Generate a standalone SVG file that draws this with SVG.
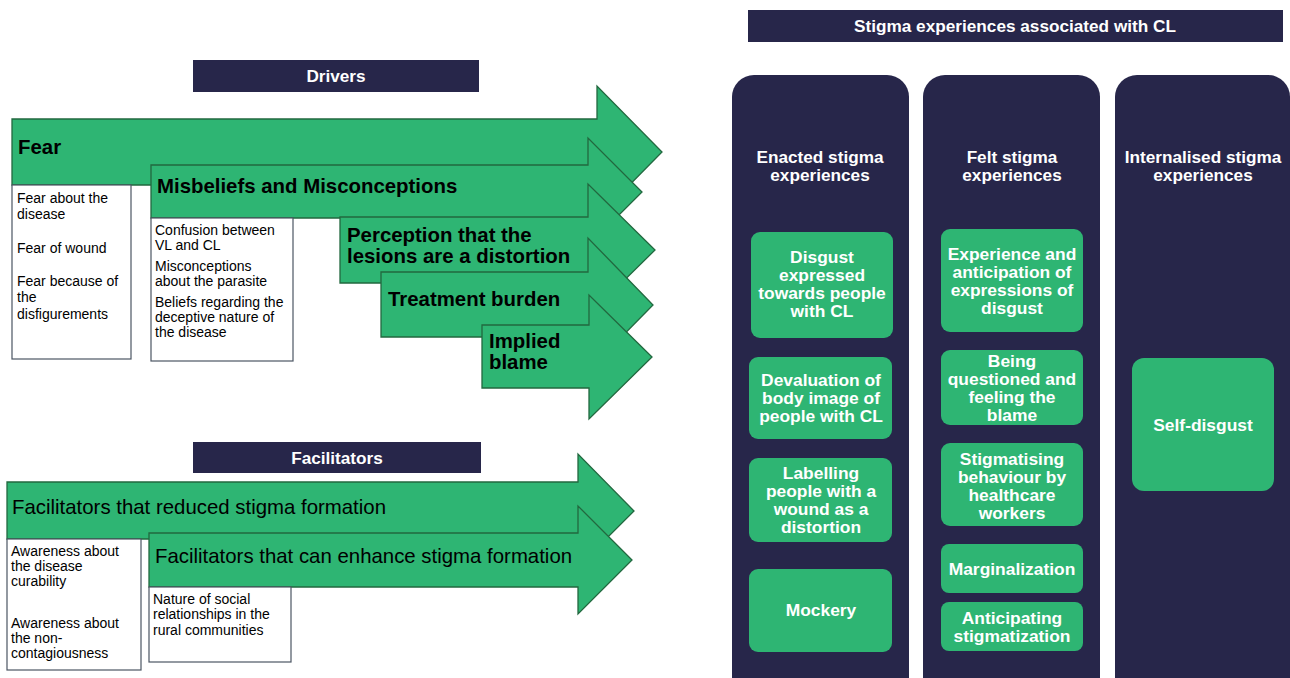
<svg xmlns="http://www.w3.org/2000/svg" width="1290" height="678" viewBox="0 0 1290 678">
<style>
.navy{fill:#27264a}
.arrow{fill:#2eb573;stroke:#22683f;stroke-width:1.3;stroke-linejoin:miter}
.wbox{fill:#ffffff;stroke:#4b5563;stroke-width:1.2}
.gbox{fill:#2eb573}
.hdr{font-family:"Liberation Sans",Arial,sans-serif;font-weight:bold;font-size:17.2px;fill:#ffffff;text-anchor:middle}
.al{font-family:"Liberation Sans",Arial,sans-serif;font-weight:bold;font-size:20.4px;fill:#000000}
.fl{font-family:"Liberation Sans",Arial,sans-serif;font-size:20.4px;fill:#000000}
.bt{font-family:"Liberation Sans",Arial,sans-serif;font-size:14px;fill:#000000}
.gt{font-family:"Liberation Sans",Arial,sans-serif;font-weight:bold;font-size:17.4px;fill:#ffffff;text-anchor:middle}
</style>
<rect width="1290" height="678" fill="#ffffff"/>

<g id="drivers-header">
<rect class="navy" x="193" y="60" width="286" height="32"/>
<text class="hdr" x="336" y="82">Drivers</text>
</g>

<g id="fear">
<path class="arrow" d="M12,119 L597,119 L597,86 L662,152 L597,218 L597,185 L12,185 Z"/>
<text class="al" x="18" y="154" font-size="22">Fear</text>
</g>
<g id="fear-box">
<rect class="wbox" x="12" y="185" width="119" height="174"/>
<text class="bt" x="17" y="203">Fear about the</text>
<text class="bt" x="17" y="219">disease</text>
<text class="bt" x="17" y="253">Fear of wound</text>
<text class="bt" x="17" y="286">Fear because of</text>
<text class="bt" x="17" y="302">the</text>
<text class="bt" x="17" y="319">disfigurements</text>
</g>

<g id="misbeliefs">
<path class="arrow" d="M151,165 L588,165 L588,138 L642,192 L588,246 L588,218 L151,218 Z"/>
<text class="al" x="157" y="193">Misbeliefs and Misconceptions</text>
</g>
<g id="misbeliefs-box">
<rect class="wbox" x="151" y="218" width="142" height="143"/>
<text class="bt" x="155" y="235">Confusion  between</text>
<text class="bt" x="155" y="250">VL and CL</text>
<text class="bt" x="155" y="271">Misconceptions</text>
<text class="bt" x="155" y="286">about the parasite</text>
<text class="bt" x="155" y="307">Beliefs regarding the</text>
<text class="bt" x="155" y="322">deceptive nature of</text>
<text class="bt" x="155" y="337">the disease</text>
</g>

<g id="perception">
<path class="arrow" d="M340,217 L588,217 L588,184 L655,250 L588,316 L588,283 L340,283 Z"/>
<text class="al" x="347" y="242">Perception that the</text>
<text class="al" x="347" y="263">lesions are a distortion</text>
</g>

<g id="treatment">
<path class="arrow" d="M381,272 L588,272 L588,238 L653,305 L588,371 L588,337 L381,337 Z"/>
<text class="al" x="388" y="306">Treatment burden</text>
</g>

<g id="implied-blame">
<path class="arrow" d="M482,325 L589,325 L589,295 L652,357 L589,419 L589,388 L482,388 Z"/>
<text class="al" x="489" y="348">Implied</text>
<text class="al" x="489" y="369">blame</text>
</g>

<g id="facilitators-header">
<rect class="navy" x="193" y="442" width="288" height="31"/>
<text class="hdr" x="337" y="464">Facilitators</text>
</g>

<g id="fac-reduce">
<path class="arrow" d="M7,482 L578,482 L578,454 L634,511 L578,567 L578,539 L7,539 Z"/>
<text class="fl" x="12" y="514">Facilitators that reduced stigma formation</text>
</g>
<g id="fac-reduce-box">
<rect class="wbox" x="7" y="539" width="134" height="131"/>
<text class="bt" x="11" y="556">Awareness  about</text>
<text class="bt" x="11" y="571">the disease</text>
<text class="bt" x="11" y="586">curability</text>
<text class="bt" x="11" y="628">Awareness  about</text>
<text class="bt" x="11" y="643">the non-</text>
<text class="bt" x="11" y="658">contagiousness</text>
</g>

<g id="fac-enhance">
<path class="arrow" d="M149,533 L578,533 L578,506 L632,560 L578,614 L578,587 L149,587 Z"/>
<text class="fl" x="155" y="563">Facilitators that can enhance stigma formation</text>
</g>
<g id="fac-enhance-box">
<rect class="wbox" x="149" y="587" width="142" height="75"/>
<text class="bt" x="153" y="604">Nature of social</text>
<text class="bt" x="153" y="619">relationships  in the</text>
<text class="bt" x="153" y="635">rural communities</text>
</g>

<g id="stigma-header">
<rect class="navy" x="748" y="10" width="535" height="32"/>
<text class="hdr" x="1015" y="32">Stigma experiences associated with CL</text>
</g>

<g id="enacted">
<rect class="navy" x="732" y="75" width="177" height="640" rx="22"/>
<text class="hdr" x="820" y="163">Enacted stigma</text>
<text class="hdr" x="820" y="181">experiences</text>
</g>
<g id="felt">
<rect class="navy" x="923" y="75" width="177" height="640" rx="22"/>
<text class="hdr" x="1012" y="163">Felt stigma</text>
<text class="hdr" x="1012" y="181">experiences</text>
</g>
<g id="internalised">
<rect class="navy" x="1115" y="75" width="175" height="640" rx="22"/>
<text class="hdr" x="1203" y="163">Internalised stigma</text>
<text class="hdr" x="1203" y="181">experiences</text>
</g>

<g id="disgust-expressed">
<rect class="gbox" x="751" y="232" width="142" height="106" rx="9"/>
<text class="gt" x="822" y="263">Disgust</text>
<text class="gt" x="822" y="281">expressed</text>
<text class="gt" x="822" y="299">towards people</text>
<text class="gt" x="822" y="317">with CL</text>
</g>
<g id="devaluation">
<rect class="gbox" x="749" y="357" width="143" height="82" rx="9"/>
<text class="gt" x="821" y="386">Devaluation of</text>
<text class="gt" x="821" y="404">body image of</text>
<text class="gt" x="821" y="422">people with CL</text>
</g>
<g id="labelling">
<rect class="gbox" x="749" y="458" width="143" height="84" rx="9"/>
<text class="gt" x="821" y="479">Labelling</text>
<text class="gt" x="821" y="497">people with a</text>
<text class="gt" x="821" y="515">wound as a</text>
<text class="gt" x="821" y="533">distortion</text>
</g>
<g id="mockery">
<rect class="gbox" x="749" y="569" width="143" height="83" rx="9"/>
<text class="gt" x="821" y="616">Mockery</text>
</g>

<g id="experience-anticipation">
<rect class="gbox" x="941" y="229" width="142" height="103" rx="9"/>
<text class="gt" x="1012" y="260">Experience and</text>
<text class="gt" x="1012" y="278">anticipation of</text>
<text class="gt" x="1012" y="296">expressions of</text>
<text class="gt" x="1012" y="314">disgust</text>
</g>
<g id="being-questioned">
<rect class="gbox" x="941" y="350" width="142" height="75" rx="9"/>
<text class="gt" x="1012" y="367">Being</text>
<text class="gt" x="1012" y="385">questioned and</text>
<text class="gt" x="1012" y="403">feeling the</text>
<text class="gt" x="1012" y="421">blame</text>
</g>
<g id="stigmatising-behaviour">
<rect class="gbox" x="941" y="443" width="142" height="83" rx="9"/>
<text class="gt" x="1012" y="465">Stigmatising</text>
<text class="gt" x="1012" y="483">behaviour by</text>
<text class="gt" x="1012" y="501">healthcare</text>
<text class="gt" x="1012" y="519">workers</text>
</g>
<g id="marginalization">
<rect class="gbox" x="941" y="544" width="142" height="49" rx="8"/>
<text class="gt" x="1012" y="575">Marginalization</text>
</g>
<g id="anticipating">
<rect class="gbox" x="941" y="602" width="142" height="49" rx="8"/>
<text class="gt" x="1012" y="624">Anticipating</text>
<text class="gt" x="1012" y="642">stigmatization</text>
</g>

<g id="self-disgust">
<rect class="gbox" x="1132" y="358" width="142" height="133" rx="12"/>
<text class="gt" x="1203" y="431">Self-disgust</text>
</g>

<g id="connectors"></g>
</svg>
